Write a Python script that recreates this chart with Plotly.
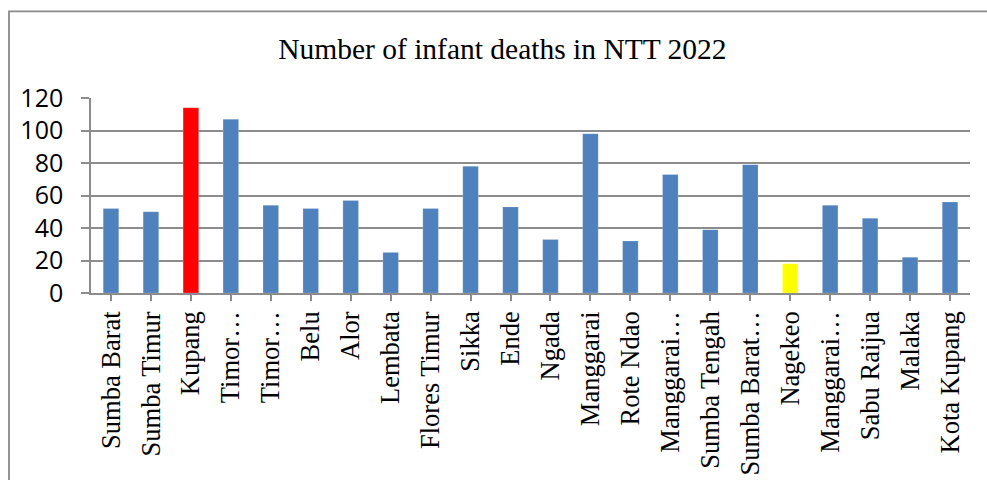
import plotly.graph_objects as go

# Infant deaths per regency / city, Nusa Tenggara Timur, 2022
regions = [
    "Sumba Barat", "Sumba Timur", "Kupang", "Timor…", "Timor…", "Belu", "Alor",
    "Lembata", "Flores Timur", "Sikka", "Ende", "Ngada", "Manggarai", "Rote Ndao",
    "Manggarai…", "Sumba Tengah", "Sumba Barat…", "Nagekeo", "Manggarai…",
    "Sabu Raijua", "Malaka", "Kota Kupang",
]
deaths = [52, 50, 114, 107, 54, 52, 57, 25, 52, 78, 53, 33, 98, 32, 73, 39, 79,
          18, 54, 46, 22, 56]

# highest count in red, lowest in yellow, the rest in the default blue
BLUE, RED, YELLOW = "#4F81BD", "#FF0000", "#FFFF00"
hi = deaths.index(max(deaths))
lo = deaths.index(min(deaths))
colors = [RED if i == hi else YELLOW if i == lo else BLUE for i in range(len(deaths))]

# unique x keys so repeated truncated labels stay separate bars
keys = list(range(len(regions)))

fig = go.Figure(
    go.Bar(
        x=keys,
        y=deaths,
        marker=dict(color=colors, line=dict(color="rgba(255,255,255,0.35)", width=0.6)),
        width=0.39,
    )
)

GRID = "#8C8C8C"
fig.update_layout(
    width=987,
    height=480,
    margin=dict(l=91, r=17, t=98, b=187),
    paper_bgcolor="white",
    plot_bgcolor="white",
    showlegend=False,
    title=dict(
        text="Number of infant deaths in NTT 2022",
        font=dict(family="Liberation Serif", size=29.5, color="black"),
        x=0.509,
        xanchor="center",
        xref="container",
        y=1 - 49 / 480,
        yanchor="middle",
        yref="container",
    ),
    xaxis=dict(
        tickmode="array",
        tickvals=keys,
        ticktext=regions,
        tickangle=-90,
        range=[-0.5, len(regions) - 0.5],
        tickson="boundaries",
        ticks="outside",
        ticklen=6,
        tickwidth=1.5,
        tickcolor=GRID,
        showline=True,
        linecolor=GRID,
        linewidth=1.5,
        showgrid=False,
        automargin=False,
        tickfont=dict(family="Liberation Serif", size=26.5, color="black"),
        ticklabelstandoff=0,
    ),
    yaxis=dict(
        range=[0, 120],
        dtick=20,
        showgrid=True,
        gridcolor=GRID,
        gridwidth=1.5,
        zeroline=False,
        showline=True,
        linecolor=GRID,
        linewidth=1.5,
        ticks="outside",
        ticklen=8,
        tickwidth=1.5,
        tickcolor=GRID,
        automargin=False,
        tickfont=dict(family="Open Sans", size=25, color="black"),
        ticklabelstandoff=13,
    ),
    shapes=[
        # frame around the chart area
        dict(
            type="path",
            xref="paper",
            yref="paper",
            path="M -0.0933,-2 L -0.0933,1.444 L 2,1.444",
            line=dict(color="#8A8A8A", width=1.8),
        )
    ],
)

fig.write_html("out.html")
